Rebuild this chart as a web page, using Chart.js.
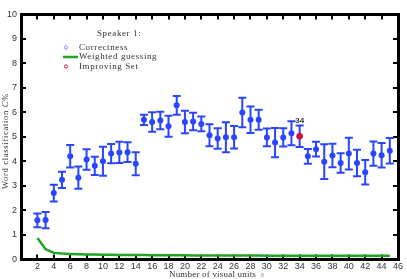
<!DOCTYPE html>
<html>
<head>
<meta charset="utf-8">
<script src="https://cdn.jsdelivr.net/npm/chart.js@4/dist/chart.umd.min.js"></script>
<style>
  html, body { margin: 0; padding: 0; background: #fff; }
  #wrap { width: 407px; height: 279px; position: relative; }
</style>
</head>
<body>
<div id="wrap"><canvas id="c"></canvas></div>
<script>
// number of visual units on the x axis
const units = [2,3,4,5,6,7,8,9,10,11,12,13,14,15,16,17,18,19,20,21,22,23,24,25,26,27,28,29,30,31,32,33,34,35,36,37,38,39,40,41,42,43,44,45];

// correctness (mean) and half-width of the error bars
const correct = [1.60,1.61,2.71,3.25,4.21,3.34,4.08,3.82,4.01,4.32,4.37,4.38,3.91,
  5.70,5.61,5.67,5.44,6.29,5.61,5.63,5.53,5.07,4.94,4.99,4.99,6.00,5.70,5.70,
  4.98,4.77,4.98,5.15,5.03,4.21,4.50,3.99,4.24,3.94,4.32,3.94,3.56,4.32,4.25,4.44];
const err = [0.28,0.33,0.34,0.33,0.46,0.45,0.42,0.37,0.59,0.39,0.43,0.40,0.47,
  0.21,0.40,0.36,0.43,0.38,0.46,0.36,0.30,0.45,0.42,0.61,0.46,0.60,0.54,0.41,
  0.36,0.60,0.37,0.49,0.44,0.30,0.30,0.71,0.48,0.40,0.65,0.54,0.50,0.49,0.50,0.52];

// weighted guessing baseline
const guess = [0.88,0.42,0.27,0.24,0.22,0.21,0.20,0.20,0.19,0.19,0.18,0.18,0.18,0.18,
  0.17,0.17,0.17,0.17,0.17,0.16,0.16,0.16,0.16,0.16,0.16,0.16,0.16,0.16,
  0.15,0.15,0.15,0.15,0.15,0.15,0.15,0.15,0.15,0.15,0.15,0.15,0.15,0.15,0.15,0.15];

// improving set
const improving = [34];

const BLUE = '#2a45ff';
const GREEN = '#1fa51f';
const RED = '#e0103a';
const SERIF = '"Liberation Serif", "DejaVu Serif", serif';
const SANS = '"Liberation Sans", Arial, sans-serif';

const pts = (xs, ys) => xs.map((x, i) => ({ x, y: ys[i] }));
const impPts = improving.map(u => ({ x: u, y: correct[units.indexOf(u)] }));

// error bars, drawn under the points
const errorBars = {
  id: 'errorBars',
  beforeDatasetsDraw(chart) {
    const { ctx, scales: { x, y } } = chart;
    ctx.save();
    ctx.strokeStyle = BLUE;
    ctx.lineWidth = 2;
    units.forEach((u, i) => {
      const px = x.getPixelForValue(u);
      const top = y.getPixelForValue(correct[i] + err[i]);
      const bot = y.getPixelForValue(correct[i] - err[i]);
      ctx.beginPath();
      ctx.moveTo(px, top); ctx.lineTo(px, bot);
      ctx.moveTo(px - 4, top); ctx.lineTo(px + 4, top);
      ctx.moveTo(px - 4, bot); ctx.lineTo(px + 4, bot);
      ctx.stroke();
    });
    ctx.restore();
  }
};

// legend, axis titles and point label
const annotations = {
  id: 'annotations',
  afterDraw(chart) {
    const { ctx, scales: { x, y } } = chart;
    ctx.save();

    // legend
    ctx.fillStyle = '#333';
    ctx.font = '9px ' + SERIF;
    ctx.textBaseline = 'middle';
    ctx.letterSpacing = '0.6px';
    ctx.fillText('Speaker 1:', 97, 33.5);
    ctx.fillText('Correctness', 79, 47.5);
    ctx.fillText('Weighted guessing', 79, 57);
    ctx.fillText('Improving Set', 79, 66.5);
    ctx.lineWidth = 1;
    ctx.strokeStyle = '#7f8fff';
    ctx.beginPath(); ctx.arc(66, 47.5, 1.6, 0, Math.PI * 2); ctx.stroke();
    ctx.strokeStyle = RED;
    ctx.beginPath(); ctx.arc(66, 66.5, 1.6, 0, Math.PI * 2); ctx.stroke();
    ctx.strokeStyle = GREEN;
    ctx.lineWidth = 2.5;
    ctx.beginPath(); ctx.moveTo(63, 57); ctx.lineTo(78, 57); ctx.stroke();

    // x axis title
    ctx.letterSpacing = '0.2px';
    ctx.textAlign = 'center';
    ctx.font = '9px ' + SERIF;
    ctx.fillText('Number of visual units', 212.5, 274.5);

    // y axis title with italic C
    ctx.save();
    ctx.translate(6, 141);
    ctx.rotate(-Math.PI / 2);
    ctx.letterSpacing = '0.7px';
    ctx.textAlign = 'left';
    const p1 = 'Word classification ', p2 = 'C', p3 = '%';
    ctx.font = '8.5px ' + SERIF;
    const w1 = ctx.measureText(p1).width, w3 = ctx.measureText(p3).width;
    ctx.font = 'italic 8.5px ' + SERIF;
    const w2 = ctx.measureText(p2).width;
    let sx = -(w1 + w2 + w3) / 2;
    ctx.font = '8.5px ' + SERIF;
    ctx.fillText(p1, sx, 0); sx += w1;
    ctx.font = 'italic 8.5px ' + SERIF;
    ctx.fillText(p2, sx, 0); sx += w2;
    ctx.font = '8.5px ' + SERIF;
    ctx.fillText(p3, sx, 0);
    ctx.restore();

    // label for the improving point
    ctx.letterSpacing = '0px';
    ctx.fillStyle = '#333';
    ctx.font = 'bold 8px ' + SANS;
    ctx.textAlign = 'center';
    impPts.forEach(p => {
      ctx.fillText(String(p.x), x.getPixelForValue(p.x), y.getPixelForValue(p.y + err[units.indexOf(p.x)]) - 5);
    });

    // stray mark under the axis
    ctx.fillStyle = '#888';
    ctx.font = '5px ' + SANS;
    ctx.textAlign = 'left';
    ctx.fillText('8', 261, 276);
    ctx.restore();
  }
};

// thick black box, ticks pointing inwards (negative tick length)
const frameBorder = { display: true, color: '#000', width: 3 };
const frameGrid = { drawOnChartArea: false, drawTicks: true, tickLength: -5, color: '#000', lineWidth: 2 };

new Chart(document.getElementById('c'), {
  type: 'scatter',
  data: {
    datasets: [
      {
        label: 'Improving Set', data: impPts, order: 0,
        pointRadius: 3, pointBackgroundColor: RED, pointBorderColor: '#b00030', pointBorderWidth: 0.5
      },
      {
        label: 'Correctness', data: pts(units, correct), order: 1,
        pointRadius: 3, pointBackgroundColor: BLUE, pointBorderColor: BLUE, pointBorderWidth: 0
      },
      {
        label: 'Weighted guessing', data: pts(units, guess), order: 2,
        showLine: true, borderColor: GREEN, borderWidth: 2.5, pointRadius: 0, tension: 0
      }
    ]
  },
  options: {
    responsive: true, maintainAspectRatio: false, animation: false,
    layout: { padding: { top: 6, right: 9, left: 0, bottom: 0 } },
    plugins: { legend: { display: false }, tooltip: { enabled: false } },
    scales: {
      x: {
        type: 'linear', min: 0, max: 46,
        grid: frameGrid, border: frameBorder,
        ticks: {
          stepSize: 2, autoSkip: false, maxRotation: 0, padding: 7,
          color: '#333', font: { family: SANS, size: 9 },
          callback: v => (v === 0 ? '' : v)
        },
        afterFit: s => { s.height = 19.5; s.paddingLeft = 0; s.paddingRight = 0; }
      },
      y: {
        min: 0, max: 10,
        grid: frameGrid, border: frameBorder,
        ticks: {
          stepSize: 1, padding: 9,
          color: '#333', font: { family: SANS, size: 9 }
        },
        afterFit: s => { s.width = 21; }
      },
      xTop: {
        type: 'linear', position: 'top', min: 0, max: 46,
        grid: frameGrid, border: frameBorder,
        ticks: { display: false, stepSize: 2, autoSkip: false },
        afterFit: s => { s.height = 0; }
      },
      yRight: {
        type: 'linear', position: 'right', min: 0, max: 10,
        grid: frameGrid, border: frameBorder,
        ticks: { display: false, stepSize: 1 },
        afterFit: s => { s.width = 0; }
      }
    }
  },
  plugins: [errorBars, annotations]
});
</script>
</body>
</html>
